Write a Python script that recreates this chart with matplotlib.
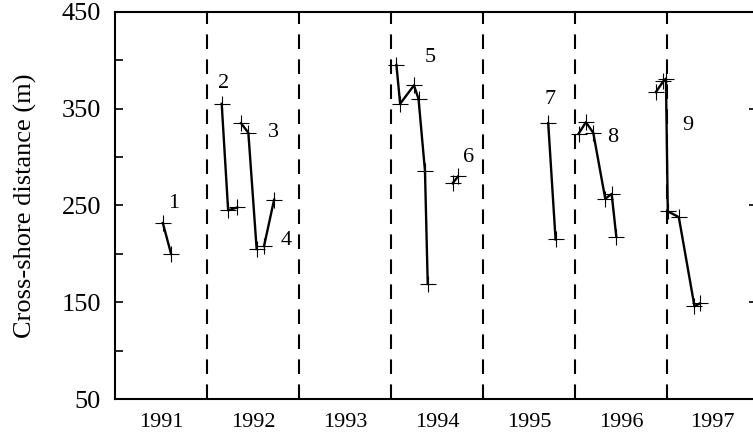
import matplotlib
matplotlib.use('Agg')
import matplotlib.pyplot as plt

plt.rcParams['font.family'] = ['Liberation Serif', 'DejaVu Serif']

# segments (decimal year, cross-shore distance in m)
t1 = [1991.52, 1991.61]
d1 = [232, 200]
t2 = [1992.16, 1992.23, 1992.33]
d2 = [355, 245, 248]
t3 = [1992.37, 1992.45, 1992.54]
d3 = [335, 325, 205]
t4 = [1992.62, 1992.73]
d4 = [208, 256]
t5 = [1994.06, 1994.10, 1994.25, 1994.30, 1994.37, 1994.40]
d5 = [395, 355, 374, 360, 286, 169]
t6 = [1994.67, 1994.73]
d6 = [273, 280]
t7 = [1995.71, 1995.79]
d7 = [335, 215]
t8 = [1996.04, 1996.12, 1996.20, 1996.33, 1996.40, 1996.45]
d8 = [324, 336, 325, 257, 262, 218]
t9 = [1996.88, 1996.96, 1996.99, 1997.01, 1997.13, 1997.30, 1997.36]
d9 = [367, 378, 381, 244, 238, 146, 149]
segments = [(t1, d1), (t2, d2), (t3, d3), (t4, d4), (t5, d5),
            (t6, d6), (t7, d7), (t8, d8), (t9, d9)]

# where the segment numbers sit
label_t = [1991.64, 1992.18, 1992.72, 1992.86, 1994.43, 1994.84, 1995.73, 1996.41, 1997.23]
label_d = [252, 376, 325, 214, 403, 300, 359, 320, 333]

years = [1991, 1992, 1993, 1994, 1995, 1996, 1997]
boundaries = [1992, 1993, 1994, 1995, 1996, 1997]
yticks_major = [50, 150, 250, 350, 450]
yticks_minor = [100, 200, 300, 400]

fig = plt.figure(figsize=(7.53, 4.36), dpi=100)
ax = fig.add_axes([115 / 753, (436 - 399.3) / 436, (757 - 115) / 753, (399.3 - 11.7) / 436])

for t, d in segments:
    ax.plot(t, d, color='black', lw=1.7, marker='+', ms=11, mew=0.8)

for i, (lt, ld) in enumerate(zip(label_t, label_d)):
    ax.text(lt, ld, str(i + 1), fontsize=16, ha='center', va='center')

for b in boundaries:
    ax.axvline(b, color='black', lw=1.5, dashes=(7, 5))

ax.set_xlim(1991, 1997.98)
ax.set_ylim(50, 450)
ax.set_xticks([y + 0.5 for y in years])
ax.set_xticklabels([str(y) for y in years], fontsize=16)
ax.tick_params(axis='x', length=0, pad=10)

ax.set_yticks(yticks_major)
ax.set_yticks(yticks_minor, minor=True)
ax.tick_params(axis='y', which='both', direction='in', length=6, width=1.2,
               left=True, right=True, labelsize=19, pad=10)
ax.tick_params(axis='y', which='minor', right=False)
ax.set_ylabel('Cross-shore distance (m)', fontsize=19, labelpad=18)

for s in ax.spines.values():
    s.set_linewidth(1.5)

fig.savefig('out.png', dpi=100)
